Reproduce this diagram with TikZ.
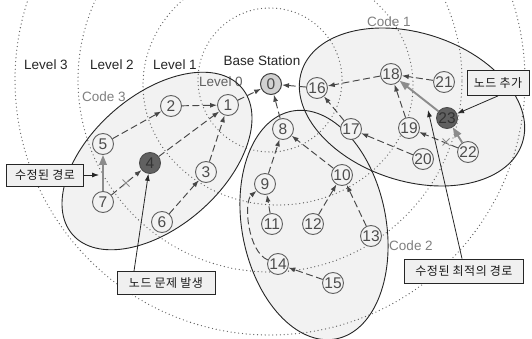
\documentclass[tikz,border=0pt]{standalone}
\usepackage{fontspec}
\setmainfont{Liberation Sans}
\newfontfamily\krfont[LetterSpace=4]{Noto Sans CJK KR}
\usetikzlibrary{arrows.meta}
\definecolor{ellfill}{gray}{0.95}
\begin{document}
\begin{tikzpicture}[x=1pt,y=-1pt,
  nd/.style={circle, draw=black!62, line width=0.9pt, fill=ellfill, minimum size=21pt, inner sep=0pt, text=black!70, font=\fontsize{15.5}{15.5}\selectfont},
  bsnode/.style={nd, fill=black!18, draw=black!75, line width=1pt},
  darknd/.style={nd, fill=black!62, draw=black!70, text=black!80},
  lvl/.style={text=black!85, font=\fontsize{13.5}{15}\selectfont, inner sep=0pt},
  codelbl/.style={text=black!50, font=\fontsize{13.5}{15}\selectfont, inner sep=0pt},
  levelline/.style={draw=black!62, line width=1.3pt, dash pattern=on 0pt off 3.8pt, line cap=round},
  ellborder/.style={draw=black!85, line width=0.9pt},
  dasharr/.style={draw=black!72, line width=0.95pt, dash pattern=on 7pt off 3.5pt, -{Latex[length=7pt,width=5pt]}},
  grayarr/.style={draw=black!45, line width=1.9pt, -{Triangle[length=10pt,width=7.5pt]}},
  callout/.style={draw=black!85, line width=0.8pt, -{Latex[length=7pt,width=5pt]}},
  crossmark/.style={draw=black!45, line width=0.9pt},
  kbox/.style={draw=black!85, fill=black!6, line width=0.8pt, text=black!90, font=\krfont\fontsize{12}{14}\selectfont, inner sep=2pt, minimum height=22pt}
]
\useasboundingbox (0,0) rectangle (532,339);
\fill[white] (0,0) rectangle (532,339);
\begin{scope}
\clip (0,0) rectangle (532,339);
% ellipse fills
\path[fill=ellfill, rotate around={41:(157,161)}] (157,161) ellipse [x radius=112pt, y radius=66pt];
\path[fill=ellfill, rotate around={101:(314,225)}] (314,225) ellipse [x radius=116pt, y radius=72pt];
\path[fill=ellfill, rotate around={-18:(412,107)}] (412,107) ellipse [x radius=116pt, y radius=74pt];
% level texts
\node[lvl] (l3) at (46,65) {Level 3};
\node[lvl] (l2) at (112,65) {Level 2};
\node[lvl] (l1) at (175,65) {Level 1};
\node[lvl] (bs) at (262,61) {Base Station};
\node[lvl, text=black!62] (l0) at (221,82) {Level 0};
% level circles
\draw[levelline] (270,80) circle [radius=72pt];
\draw[levelline] (278,85) ellipse [x radius=135pt, y radius=120pt];
\draw[levelline] (270,80) circle [radius=192pt];
\draw[levelline] (270,80) circle [radius=255pt];
% ellipse borders
\draw[ellborder, rotate around={41:(157,161)}] (157,161) ellipse [x radius=112pt, y radius=66pt];
\draw[ellborder, rotate around={101:(314,225)}] (314,225) ellipse [x radius=116pt, y radius=72pt];
\draw[ellborder, rotate around={-18:(412,107)}] (412,107) ellipse [x radius=116pt, y radius=74pt];
\end{scope}
% code labels
\node[codelbl] (c3) at (104,97) {Code 3};
\node[codelbl] (c1) at (389,22) {Code 1};
\node[codelbl] (c2) at (411,246) {Code 2};
% nodes
\node[bsnode] (n0) at (271,84) {0};
\node[nd] (n1) at (228,105) {1};
\node[nd] (n2) at (171,106) {2};
\node[nd] (n3) at (206,172) {3};
\node[darknd] (n4) at (150,163) {4};
\node[nd] (n5) at (103,144) {5};
\node[nd] (n6) at (162,222) {6};
\node[nd] (n7) at (103,202) {7};
\node[nd] (n8) at (283,129) {8};
\node[nd] (n9) at (265,184) {9};
\node[nd] (n10) at (342,175) {10};
\node[nd] (n11) at (272,224) {11};
\node[nd] (n12) at (313,224) {12};
\node[nd] (n13) at (371,236) {13};
\node[nd] (n14) at (278,264) {14};
\node[nd] (n15) at (333,283) {15};
\node[nd] (n16) at (317,88) {16};
\node[nd] (n17) at (351,129) {17};
\node[nd] (n18) at (391,74) {18};
\node[nd] (n19) at (409,128) {19};
\node[nd] (n20) at (423,159) {20};
\node[nd] (n21) at (444,82) {21};
\node[nd] (n22) at (468,152) {22};
\node[darknd] (n23) at (447,118) {23};
% dashed links
\draw[dasharr] (n1) -- (n0);
\draw[dasharr] (n8) -- (n0);
\draw[dasharr] (n16) -- (n0);
\draw[dasharr] (n2) -- (n1);
\draw[dasharr] (n3) -- (n1);
\draw[dasharr] (n4) -- (n1);
\draw[dasharr] (n5) -- (n2);
\draw[dasharr] (n6) -- (n3);
\draw[dasharr] (n7) -- (n4);
\draw[dasharr] (n9) -- (n8);
\draw[dasharr] (n10) -- (n8);
\draw[dasharr] (n11) -- (n9);
\draw[dasharr] (n14) .. controls (248,252) and (243,202) .. (n9);
\draw[dasharr] (n12) -- (n10);
\draw[dasharr] (n13) -- (n10);
\draw[dasharr] (n15) -- (n14);
\draw[dasharr] (n17) -- (n16);
\draw[dasharr] (n18) -- (n16);
\draw[dasharr] (n21) -- (n18);
\draw[dasharr] (n19) -- (n18);
\draw[dasharr] (n20) -- (n17);
\draw[dasharr] (n22) -- (n19);
% broken-link crosses
\coordinate (xa) at (126,183);
\coordinate (xb) at (446,142);
\draw[crossmark] (xa) +(-3.5,-3.5) -- +(3.5,3.5) +(-3.5,3.5) -- +(3.5,-3.5);
\draw[crossmark] (xb) +(-3.5,-3.5) -- +(3.5,3.5) +(-3.5,3.5) -- +(3.5,-3.5);
% modified paths
\draw[grayarr] (n7) -- (n5);
\draw[grayarr] (n23) -- (n18);
\draw[grayarr] (n22) -- (n23);
% callout boxes
\node[kbox, minimum width=77pt] (kb1) at (45,175) {수정된 경로};
\node[kbox, minimum width=98pt, minimum height=23pt] (kb2) at (166,283) {노드 문제 발생};
\node[kbox, minimum width=119pt, minimum height=24pt] (kb3) at (464,271) {수정된 최적의 경로};
\node[kbox, minimum width=62pt, minimum height=25pt] (kb4) at (498,83) {노드 추가};
\coordinate (ta) at (99,175);
\coordinate (tb) at (428,110);
\draw[callout] (kb1.east) -- (ta);
\draw[callout] ([xshift=-32pt]kb2.north) -- (n4);
\draw[callout] ([xshift=-2pt]kb3.north) -- (tb);
\draw[callout] (kb4.south) -- (n23);
\end{tikzpicture}
\end{document}
